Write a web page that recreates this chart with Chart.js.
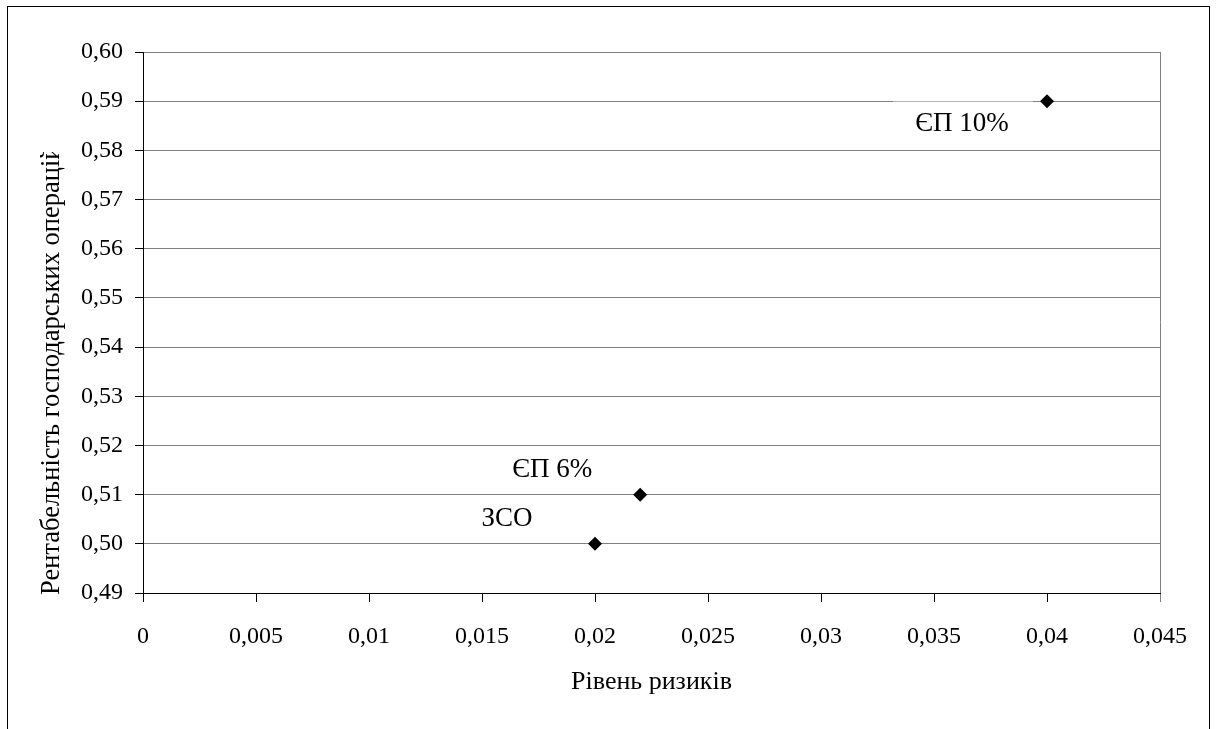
<!DOCTYPE html>
<html>
<head>
<meta charset="utf-8">
<script src="https://cdn.jsdelivr.net/npm/chart.js@4.4.1/dist/chart.umd.min.js"></script>
<style>
  html, body { margin: 0; padding: 0; background: #fff; }
  #wrap { width: 1216px; height: 729px; }
</style>
</head>
<body>
<div id="wrap"><canvas id="chart" width="1216" height="729"></canvas></div>
<script>
// risk level vs. profitability of business operations
const pointNames = ["ЗСО", "ЄП 6%", "ЄП 10%"];
const riskLevel = [0.02, 0.022, 0.04];
const profitability = [0.50, 0.51, 0.59];

const xTitle = "Рівень ризиків";
const yTitle = "Рентабельність господарських операцій";

const FONT = "'Liberation Serif', 'Times New Roman', serif";
const GRID = "#808080";

const fmt = (v, digits) => Number(v.toFixed(digits)).toString().replace(".", ",");

// frame, axis titles and point captions
const extras = {
    id: "extras",
    beforeDraw(chart) {
        const c = chart.ctx;
        c.save();
        c.fillStyle = "#fff";
        c.fillRect(0, 0, chart.width, chart.height);
        c.strokeStyle = "#000";
        c.lineWidth = 1;
        c.strokeRect(7.5, 6.5, 1202, 800);
        c.restore();
    },
    afterDatasetsDraw(chart) {
        const c = chart.ctx;
        const area = chart.chartArea;
        const meta = chart.getDatasetMeta(0);
        c.save();
        c.font = "27px " + FONT;
        c.fillStyle = "#000";
        c.textAlign = "center";
        c.textBaseline = "middle";
        meta.data.forEach((pt, i) => {
            const name = pointNames[i];
            let dx = -88, dy = -25;
            if (i === 2) {
                dx = -85; dy = 23;
                // caption box sits over the gridline
                c.fillStyle = "rgba(255,255,255,0.5)";
                c.fillRect(pt.x - 154, pt.y, 140, 34);
                c.fillStyle = "#000";
            }
            c.fillText(name, pt.x + dx, pt.y + dy);
        });

        c.font = "26px " + FONT;
        c.fillText(xTitle, (area.left + area.right) / 2, 682);

        // y title runs past the frame top and gets cut off there
        c.beginPath();
        c.rect(0, 152, 120, 600);
        c.clip();
        c.font = "26.5px " + FONT;
        c.translate(52, 595);
        c.rotate(-Math.PI / 2);
        c.textAlign = "left";
        c.fillText(yTitle, 0, 0);
        c.restore();
    }
};

new Chart(document.getElementById("chart"), {
    type: "scatter",
    data: {
        datasets: [{
            data: riskLevel.map((x, i) => ({ x, y: profitability[i] })),
            pointStyle: "rectRot",
            pointRadius: 7,
            pointHoverRadius: 7,
            backgroundColor: "#000",
            borderColor: "#000",
            borderWidth: 0
        }]
    },
    options: {
        responsive: false,
        animation: false,
        devicePixelRatio: 1,
        layout: { padding: { left: 0, top: 52, right: 56, bottom: 0 } },
        plugins: {
            legend: { display: false },
            tooltip: { enabled: false }
        },
        scales: {
            x: {
                type: "linear",
                min: 0,
                max: 0.045,
                afterFit(s) { s.height = 136; },
                ticks: {
                    stepSize: 0.005,
                    color: "#000",
                    padding: 20,
                    font: { family: FONT, size: 24 },
                    maxRotation: 0,
                    callback: v => fmt(v, 3)
                },
                grid: {
                    color: ctx => ctx.index === 9 ? GRID : "rgba(0,0,0,0)",
                    tickColor: ctx => ctx.index === 9 ? GRID : "#000",
                    tickLength: 9,
                    lineWidth: 1
                },
                border: { color: "#000", width: 1 }
            },
            y: {
                type: "linear",
                min: 0.49,
                max: 0.60,
                afterFit(s) { s.width = 143; },
                ticks: {
                    stepSize: 0.01,
                    color: "#000",
                    padding: 12,
                    font: { family: FONT, size: 24 },
                    callback: v => v.toFixed(2).replace(".", ",")
                },
                grid: {
                    color: GRID,
                    tickColor: "#000",
                    tickLength: 8,
                    lineWidth: 1
                },
                border: { color: "#000", width: 1 }
            }
        }
    },
    plugins: [extras]
});
</script>
</body>
</html>
